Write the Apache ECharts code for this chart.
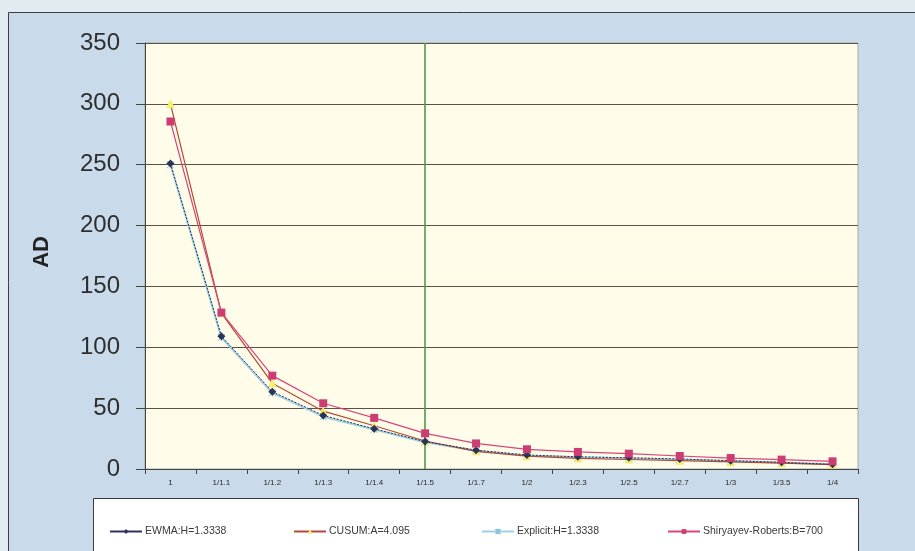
<!DOCTYPE html>
<html>
<head>
<meta charset="utf-8">
<script src="https://cdn.jsdelivr.net/npm/echarts@6/dist/echarts.min.js"></script>
<style>
  html, body { margin: 0; padding: 0; background: #e3ebf2; }
  #chart { width: 915px; height: 551px; }
</style>
</head>
<body>
<div id="chart"></div>
<script>
// Shift magnitudes on the horizontal axis
const categories = ['1', '1/1.1', '1/1.2', '1/1.3', '1/1.4', '1/1.5', '1/1.7', '1/2', '1/2.3', '1/2.5', '1/2.7', '1/3', '1/3.5', '1/4'];

// Average delay (AD) of each detection procedure
const ewma     = [251, 109, 63.5, 44, 33, 22.5, 15.5, 11.5, 10, 9.2, 8.2, 6.8, 5.5, 3.8];
const cusum    = [300, 128, 70.5, 47.5, 35.5, 23, 14.5, 10.5, 8.8, 7.8, 6.8, 5.8, 4.8, 3.6];
const explicit = [250, 108, 62.5, 43, 32.5, 22, 15, 11, 9.6, 8.8, 7.8, 6.6, 5.4, 4];
const sr       = [285.5, 128.5, 76.7, 54, 42, 29.3, 21, 16.2, 14, 12.6, 10.7, 9, 7.7, 6.3];

const seriesNames = ['EWMA:H=1.3338', 'CUSUM:A=4.095', 'Explicit:H=1.3338', 'Shiryayev-Roberts:B=700'];
const yTicks = { min: 0, max: 350, interval: 50 };
const markerCategory = '1/1.5';

const FONT = '"Liberation Sans", Arial, sans-serif';

const chart = echarts.init(document.getElementById('chart'), null, { renderer: 'canvas' });

function legendAt(name, left) {
  return {
    data: [name],
    left: left,
    top: 521,
    itemWidth: 32,
    itemHeight: 6,
    itemGap: 0,
    selectedMode: false,
    lineStyle: { type: 'solid' },
    textStyle: { fontFamily: FONT, fontSize: 10.5, color: '#3a3a3a', padding: [0, 0, 0, -2] }
  };
}

const option = {
  animation: false,
  backgroundColor: 'transparent',
  graphic: [
    {
      type: 'rect', z: -10, silent: true,
      shape: { x: 8.5, y: 12.5, width: 920, height: 560 },
      style: { fill: '#c9dbea', stroke: '#3d3d3d', lineWidth: 1 }
    },
    {
      type: 'rect', z: -5, silent: true,
      shape: { x: 93.5, y: 498.5, width: 765, height: 70 },
      style: { fill: '#ffffff', stroke: '#3a3a3a', lineWidth: 1 }
    },
    {
      type: 'text', left: 31, top: 236, rotation: Math.PI / 2,
      style: { text: 'AD', font: 'bold 22px ' + FONT, fill: '#222' }
    }
  ],
  legend: [
    legendAt(seriesNames[0], 104),
    legendAt(seriesNames[1], 288),
    legendAt(seriesNames[2], 476),
    legendAt(seriesNames[3], 662)
  ],
  grid: {
    left: 145, right: 57, top: 43, bottom: 82,
    show: true, backgroundColor: '#fffde9', borderColor: '#a8a8a0', borderWidth: 1
  },
  xAxis: {
    type: 'category',
    data: categories,
    boundaryGap: true,
    axisLine: { lineStyle: { color: '#444', width: 1 } },
    axisTick: { show: true, alignWithLabel: false, length: 5, lineStyle: { color: '#444' } },
    axisLabel: { fontFamily: FONT, fontSize: 8, color: '#2a2a2a', margin: 10 },
    splitLine: { show: false }
  },
  yAxis: {
    type: 'value',
    min: yTicks.min, max: yTicks.max, interval: yTicks.interval,
    axisLine: { show: true, lineStyle: { color: '#444', width: 1 } },
    axisTick: { show: true, length: 9, lineStyle: { color: '#444' } },
    axisLabel: { fontFamily: FONT, fontSize: 24, color: '#2e2e2e', margin: 25 },
    splitLine: { lineStyle: { color: '#5e5048', width: 1.2 } }
  },
  series: [
    {
      name: seriesNames[0], type: 'line', data: ewma, z: 5,
      symbol: 'diamond', symbolSize: 8,
      lineStyle: { color: '#2a3358', width: 1, type: [2, 1.5] },
      itemStyle: { color: '#2a3358' }
    },
    {
      name: seriesNames[1], type: 'line', data: cusum, z: 4,
      symbol: 'triangle', symbolSize: 7,
      lineStyle: { color: '#b34a36', width: 1.2 },
      itemStyle: { color: '#f8f27a', borderColor: '#f3ea5a' }
    },
    {
      name: seriesNames[2], type: 'line', data: explicit, z: 3,
      symbol: 'path://M0,0 L10,10 M10,0 L0,10 M5,0 L5,10', symbolSize: 7,
      lineStyle: { color: '#9fd0e2', width: 2 },
      itemStyle: { color: '#9fd0e2', borderColor: '#8cc4da', borderWidth: 1 }
    },
    {
      name: seriesNames[3], type: 'line', data: sr, z: 6,
      symbol: 'rect', symbolSize: 8,
      lineStyle: { color: '#d8457a', width: 1.2 },
      itemStyle: { color: '#cc3d72' },
      markLine: {
        silent: true, symbol: 'none',
        label: { show: false },
        lineStyle: { color: '#4f9a45', width: 1.6, type: 'solid' },
        data: [{ xAxis: markerCategory }]
      }
    }
  ]
};

chart.setOption(option);
</script>
</body>
</html>
